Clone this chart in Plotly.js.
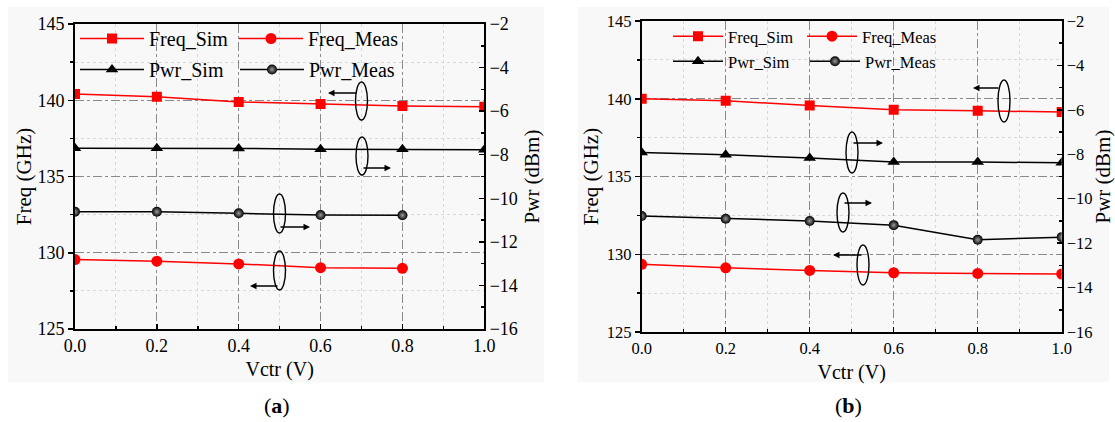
<!DOCTYPE html>
<html>
<head>
<meta charset="utf-8">
<script src="https://cdn.plot.ly/plotly-3.0.1.min.js"></script>
<style>html,body{margin:0;padding:0;background:#fff;}#chart{width:1115px;height:422px;}</style>
</head>
<body>
<div id="chart"></div>
<script>
// ---- data ----
var vctr = [0, 0.2, 0.4, 0.6, 0.8, 1.0];
var vctrMeasA = [0, 0.2, 0.4, 0.6, 0.8];

var aFreqSim  = [140.41, 140.23, 139.89, 139.75, 139.62, 139.58];
var aFreqMeas = [129.55, 129.45, 129.27, 129.02, 128.98];
var aPwrSim   = [-7.70, -7.70, -7.71, -7.75, -7.75, -7.77];
var aPwrMeas  = [-10.62, -10.62, -10.69, -10.77, -10.78];

var bFreqSim  = [140.00, 139.87, 139.57, 139.29, 139.23, 139.14];
var bFreqMeas = [129.35, 129.13, 128.96, 128.81, 128.77, 128.73];
var bPwrSim   = [-7.92, -8.02, -8.17, -8.35, -8.35, -8.38];
var bPwrMeas  = [-10.78, -10.90, -11.00, -11.19, -11.85, -11.73];

var names = ['Freq_Sim', 'Freq_Meas', 'Pwr_Sim', 'Pwr_Meas'];
var freqTicks = [125, 130, 135, 140, 145];
var pwrTicks = [-16, -14, -12, -10, -8, -6, -4, -2];
var xTicks = [0, 0.2, 0.4, 0.6, 0.8, 1.0];
var panelLabels = ['(<b>a</b>)', '(<b>b</b>)'];
var xTitle = 'Vctr (V)', yTitleL = 'Freq (GHz)', yTitleR = 'Pwr (dBm)';

// ---- helpers ----
var W = 1115, H = 422;
function px(x) { return x / W; }
function py(y) { return 1 - y / H; }
var FONT = 'Liberation Serif, Times New Roman, serif';

function mk(x, y, name, xa, ya, color, symbol, size, lg, grad) {
  var m = {symbol: symbol, size: size, color: color, line: {width: 0}};
  if (grad) m.gradient = {type: 'radial', color: '#9a9a9a'};
  return {x: x, y: y, name: name, xaxis: xa, yaxis: ya, type: 'scatter', mode: 'lines+markers',
    line: {color: color, width: 1.5}, marker: m, legend: lg};
}

var data = [
  mk(vctr, aFreqSim, names[0], 'x', 'y', '#ff0000', 'square', 10, 'legend'),
  mk(vctrMeasA, aFreqMeas, names[1], 'x', 'y', '#ff0000', 'circle', 11, 'legend2'),
  mk(vctr, aPwrSim, names[2], 'x', 'y2', '#000000', 'triangle-up', 11, 'legend3'),
  mk(vctrMeasA, aPwrMeas, names[3], 'x', 'y2', '#000000', 'circle', 10, 'legend4', true),
  mk(vctr, bFreqSim, names[0], 'x2', 'y3', '#ff0000', 'square', 10, 'legend5'),
  mk(vctr, bFreqMeas, names[1], 'x2', 'y3', '#ff0000', 'circle', 11, 'legend6'),
  mk(vctr, bPwrSim, names[2], 'x2', 'y4', '#000000', 'triangle-up', 11, 'legend7'),
  mk(vctr, bPwrMeas, names[3], 'x2', 'y4', '#000000', 'circle', 10, 'legend8', true)
];

function xax(dom, anchor, fs, so) {
  return {domain: dom, anchor: anchor, range: [0, 1], tickvals: xTicks, tickformat: '.1f',
    ticks: 'inside', ticklen: 5, tickwidth: 1.5, tickcolor: '#000',
    showline: true, linewidth: 1.8, linecolor: '#000', mirror: true,
    showgrid: true, gridcolor: '#8a8a8a', griddash: 'dashdot', gridwidth: 1, zeroline: false,
    minor: {dtick: 0.1, ticks: 'inside', ticklen: 3, tickcolor: '#000', showgrid: true, gridcolor: '#d8d8d8', griddash: 'dot', gridwidth: 1},
    tickfont: {family: FONT, size: fs, color: '#000'},
    title: {text: xTitle, font: {family: FONT, size: 20, color: '#000'}, standoff: so}};
}
function yfreq(dom, anchor, fs, so) {
  return {domain: dom, anchor: anchor, range: [125, 145], tickvals: freqTicks,
    ticks: 'outside', ticklen: 5, tickwidth: 1.5, tickcolor: '#000',
    showline: true, linewidth: 1.8, linecolor: '#000',
    showgrid: true, gridcolor: '#8a8a8a', griddash: 'dashdot', gridwidth: 1, zeroline: false,
    minor: {dtick: 2.5, ticks: 'outside', ticklen: 3, tickcolor: '#000', showgrid: true, gridcolor: '#d8d8d8', griddash: 'dot', gridwidth: 1},
    tickfont: {family: FONT, size: fs, color: '#000'},
    title: {text: yTitleL, font: {family: FONT, size: 21, color: '#000'}, standoff: so}};
}
function ypwr(over, anchor, fs, so) {
  return {overlaying: over, anchor: anchor, side: 'right', range: [-16, -2], tickvals: pwrTicks,
    ticks: 'inside', ticklen: 5, tickwidth: 1.5, tickcolor: '#000',
    showline: true, linewidth: 1.8, linecolor: '#000', showgrid: false, zeroline: false,
    minor: {dtick: 1, ticks: 'inside', ticklen: 3, tickcolor: '#000', showgrid: false},
    tickfont: {family: FONT, size: fs, color: '#000'},
    title: {text: yTitleR, font: {family: FONT, size: 21, color: '#000'}, standoff: so}};
}
function leg(x, y, iw, fs) {
  return {x: px(x), y: py(y), xanchor: 'left', yanchor: 'top', orientation: 'h',
    bgcolor: 'rgba(0,0,0,0)', font: {family: FONT, size: fs, color: '#000'},
    itemwidth: iw, tracegroupgap: 0};
}

// decorations: ellipses + arrows (pixel positions)
var ellipses = [
  [361.5, 82, 120], [362, 137, 175], [279.5, 194, 233], [279.5, 251, 290],
  [1004, 80, 122], [852, 132, 173], [843, 193, 232], [863, 245, 285]
];
var arrows = [ // tailX, y, headX
  [358, 93, 328], [362, 168, 391], [279, 227, 310], [279, 286, 250],
  [1000, 88, 973], [852, 143, 883], [843, 203, 872], [863, 255, 833]
];

var shapes = [
  {type: 'rect', xref: 'paper', yref: 'paper', x0: px(8), x1: px(544), y0: py(382), y1: py(7), fillcolor: '#f8f8f8', line: {width: 0}, layer: 'below'},
  {type: 'rect', xref: 'paper', yref: 'paper', x0: px(578), x1: px(1109), y0: py(382), y1: py(7), fillcolor: '#f8f8f8', line: {width: 0}, layer: 'below'}
];
ellipses.forEach(function (e) {
  shapes.push({type: 'circle', xref: 'paper', yref: 'paper', x0: px(e[0] - 6), x1: px(e[0] + 6), y0: py(e[2]), y1: py(e[1]),
    line: {color: '#000', width: 1.4}, fillcolor: 'rgba(0,0,0,0)', layer: 'above'});
});
var annotations = [];
arrows.forEach(function (a) {
  annotations.push({xref: 'paper', yref: 'paper', x: px(a[2]), y: py(a[1]), ax: a[0] - a[2], ay: 0,
    text: '', showarrow: true, arrowhead: 2, arrowsize: 1, arrowwidth: 1.3, arrowcolor: '#000', standoff: 0, startstandoff: 0});
});
annotations.push({xref: 'paper', yref: 'paper', x: px(277), y: py(405), text: panelLabels[0], showarrow: false,
  font: {family: FONT, size: 22, color: '#000'}, xanchor: 'center', yanchor: 'middle'});
annotations.push({xref: 'paper', yref: 'paper', x: px(848), y: py(405), text: panelLabels[1], showarrow: false,
  font: {family: FONT, size: 22, color: '#000'}, xanchor: 'center', yanchor: 'middle'});

var layout = {
  width: W, height: H, margin: {l: 0, r: 0, t: 0, b: 0}, paper_bgcolor: '#ffffff', plot_bgcolor: 'rgba(0,0,0,0)',
  showlegend: true,
  xaxis: xax([px(75), px(484.3)], 'y', 18, 6),
  yaxis: yfreq([py(329), py(24)], 'x', 18, 0),
  yaxis2: ypwr('y', 'x', 18, 7),
  xaxis2: xax([px(641.7), px(1061.7)], 'y3', 16.5, 8),
  yaxis3: yfreq([py(332), py(21)], 'x2', 16.5, 2),
  yaxis4: ypwr('y3', 'x2', 16.5, 10),
  legend: leg(75, 19, 64, 20),
  legend2: leg(234, 19, 64, 20),
  legend3: leg(75, 50, 64, 20),
  legend4: leg(235, 50, 64, 20),
  legend5: leg(668, 19, 50, 16.5),
  legend6: leg(802, 19, 50, 16.5),
  legend7: leg(668, 44, 50, 16.5),
  legend8: leg(805, 44, 50, 16.5),
  shapes: shapes,
  annotations: annotations
};

Plotly.newPlot('chart', data, layout, {displayModeBar: false, staticPlot: true});
</script>
</body>
</html>
